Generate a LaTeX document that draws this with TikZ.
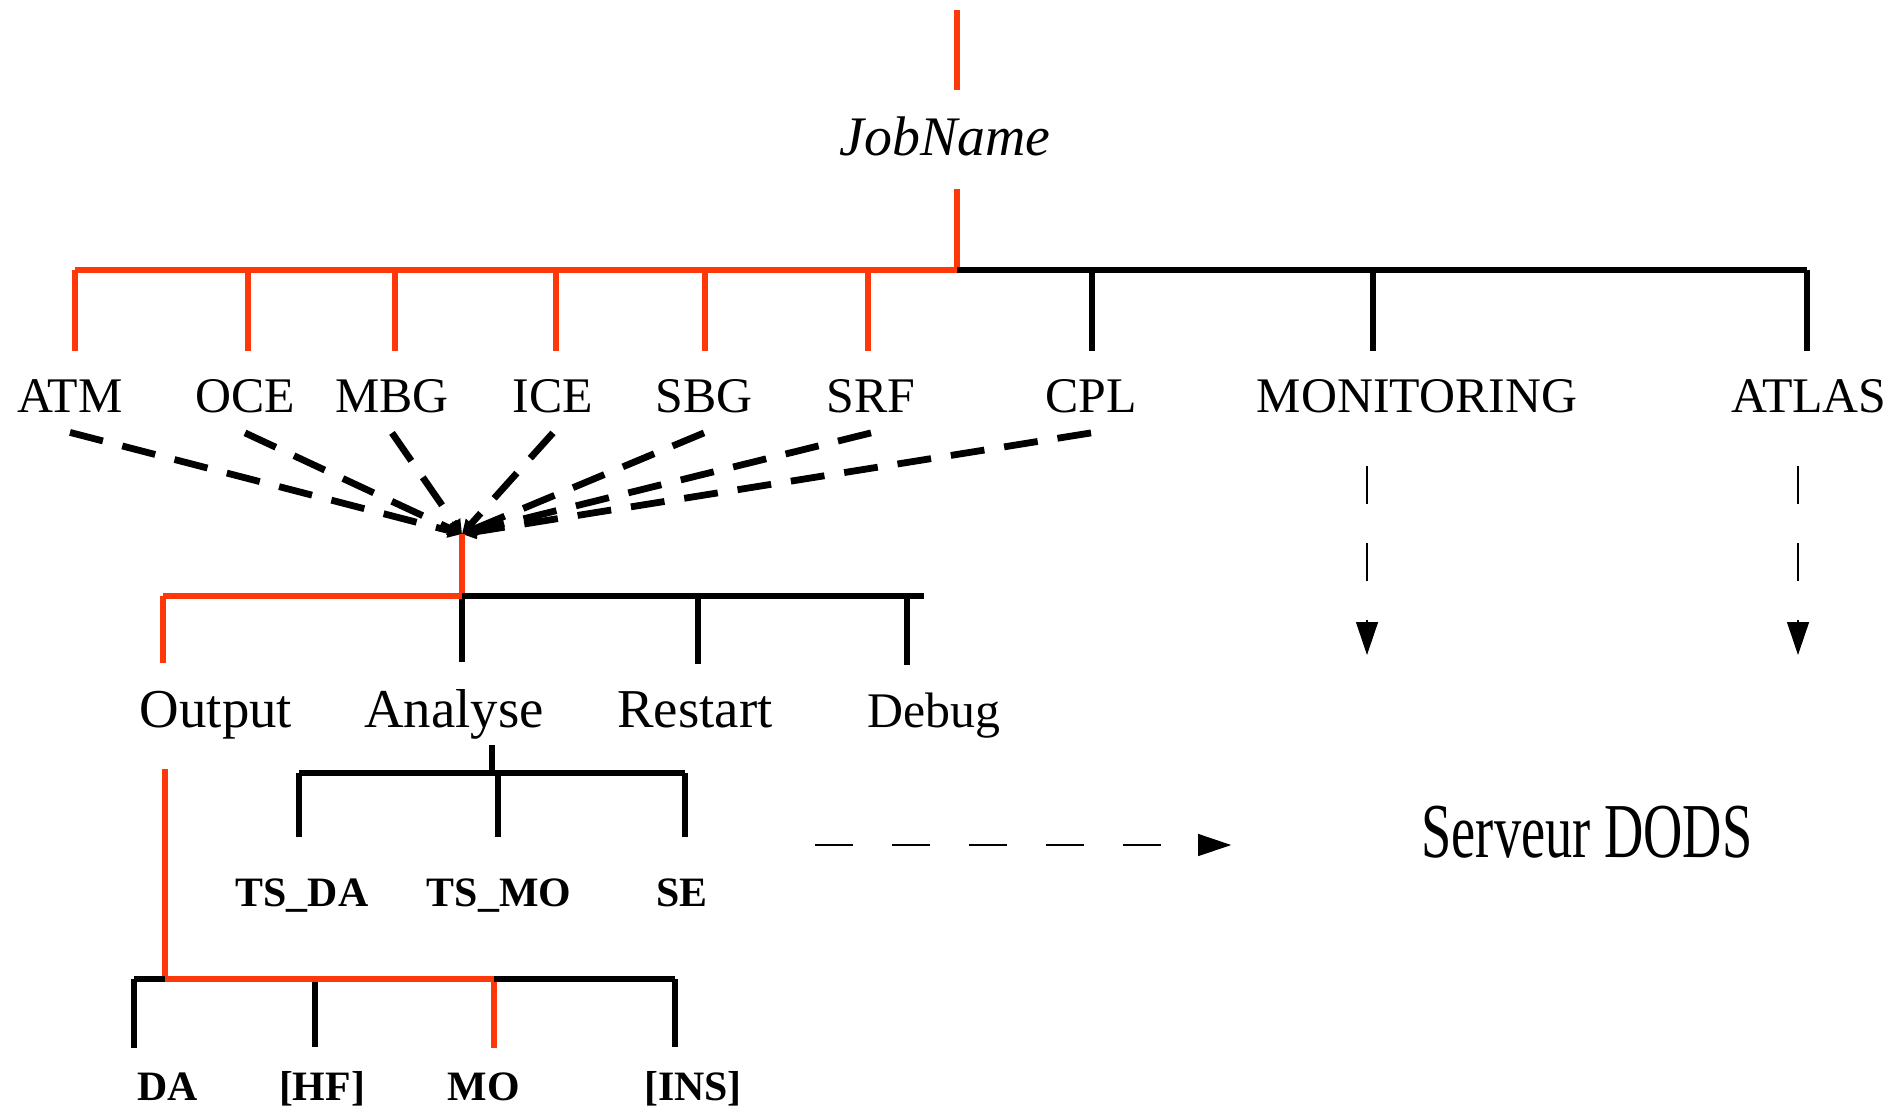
\documentclass[tikz,border=0pt]{standalone}
\usepackage{fontspec}
\setmainfont{Liberation Serif}
\newfontfamily\narrowserif[FakeStretch=0.7]{Liberation Serif}
\usetikzlibrary{arrows.meta}
\definecolor{treered}{RGB}{255,56,10}

\begin{document}
\begin{tikzpicture}[x=0.5bp,y=-0.5bp,
    branch/.style={line width=3.2bp},
    lvlone/.style={inner sep=0pt,anchor=base,font=\fontsize{25}{30}\selectfont},
    leaf/.style={inner sep=0pt,anchor=base,font=\fontsize{21}{25}\selectfont\bfseries},
    feed/.style={line width=3.4bp,dash pattern=on 17bp off 10bp,-{Triangle[length=7bp,width=7bp]}},
    export/.style={line width=0.6bp,dash pattern=on 19bp off 19.5bp,-{Triangle[length=16.5bp,width=11bp]}}]
  \useasboundingbox (0,0) rectangle (1899,1111);

  % root
  \coordinate (top) at (957,10);
  \coordinate (bus1) at (957,270);
  \node[inner sep=0pt,anchor=base,font=\fontsize{28}{34}\selectfont\itshape] (job) at (945,155) {JobName};
  \draw[branch,treered,shorten >=13bp] (top) -- (top |- job.north);
  \draw[branch,treered,shorten <=16.5bp] (top |- job.south) -- (bus1);

  % components
  \foreach \n/\jx/\lx/\c/\t in {atm/75/70/treered/ATM, oce/248/245/treered/OCE,
      mbg/395/392/treered/MBG, ice/556/553/treered/ICE, sbg/705/704/treered/SBG,
      srf/868/871/treered/SRF, cpl/1092/1091/black/CPL,
      mon/1373/1417/black/MONITORING, atl/1807/1809/black/ATLAS}
  {
    \coordinate (\n-j) at (\jx,270);
    \node[lvlone] (\n) at (\lx,412) {\t};
    \draw[branch,\c,shorten >=14bp] (\n-j) -- (\n-j |- \n.north);
  }
  \draw[branch,treered] (atm-j) -- (bus1);
  \draw[branch] (bus1) -- (atl-j);

  % every component feeds the same subtree
  \coordinate (hub) at (462,534);
  \foreach \n in {atm,oce,mbg,ice,sbg,srf,cpl}
    \draw[feed] ([yshift=-10bp]\n.south) -- (hub);

  \coordinate (bus2) at (462,596);
  \coordinate (bus2-end) at (924,596);
  \draw[branch,treered] (hub) -- (bus2);
  \foreach \n/\jx/\lx/\c/\s/\t in {out/163/216/treered/27.5/Output, ana/462/454/black/27.5/Analyse,
      rst/698/695/black/27.5/Restart, dbg/907/934/black/25/Debug}
  {
    \coordinate (\n-j) at (\jx,596);
    \node[inner sep=0pt,anchor=base,font=\fontsize{\s}{\s}\selectfont] (\n) at (\lx,727) {\t};
    \draw[branch,\c,shorten >=13.5bp] (\n-j) -- (\n-j |- \n.north);
  }
  \draw[branch,treered] (out-j) -- (bus2);
  \draw[branch] (bus2) -- (bus2-end);

  % Analyse
  \coordinate (ana-k) at (492,773);
  \draw[branch,shorten <=3bp] (ana.south -| ana-k) -- (ana-k);
  \foreach \n/\jx/\lx/\t in {tsda/299/302/TS\_DA, tsmo/498/499/TS\_MO, se/685/682/SE}
  {
    \coordinate (\n-j) at (\jx,773);
    \node[leaf] (\n) at (\lx,906) {\t};
    \draw[branch,shorten >=20.5bp] (\n-j) -- (\n-j |- \n.north);
  }
  \draw[branch] (tsda-j) -- (se-j);

  % Output
  \coordinate (bus3) at (165,979);
  \draw[branch,treered,shorten <=15bp] (out.south -| bus3) -- (bus3);
  \foreach \n/\jx/\lx/\c/\t in {da/134/168/black/DA, hf/315/322/black/{[HF]},
      mo/494/484/treered/MO, ins/675/693/black/{[INS]}}
  {
    \coordinate (\n-j) at (\jx,979);
    \node[leaf] (\n) at (\lx,1100) {\t};
    \draw[branch,\c,shorten >=12bp] (\n-j) -- (\n-j |- \n.north);
  }
  \draw[branch] (da-j) -- (bus3);
  \draw[branch,treered] (bus3) -- (mo-j);
  \draw[branch] (mo-j) -- (ins-j);

  % DODS server
  \node[inner sep=0pt,anchor=base,font=\narrowserif\fontsize{39}{47}\selectfont] (srv) at (1587,857) {Serveur DODS};
  \coordinate (ana-out) at (815,845);
  \draw[export,shorten >=95bp] (ana-out) -- (ana-out -| srv.west);
  \coordinate (mon-a) at (1367,466);
  \coordinate (mon-b) at (1367,655);
  \coordinate (atl-a) at (1798,466);
  \coordinate (atl-b) at (1798,655);
  \draw[export] (mon-a) -- (mon-b);
  \draw[export] (atl-a) -- (atl-b);
\end{tikzpicture}
\end{document}
